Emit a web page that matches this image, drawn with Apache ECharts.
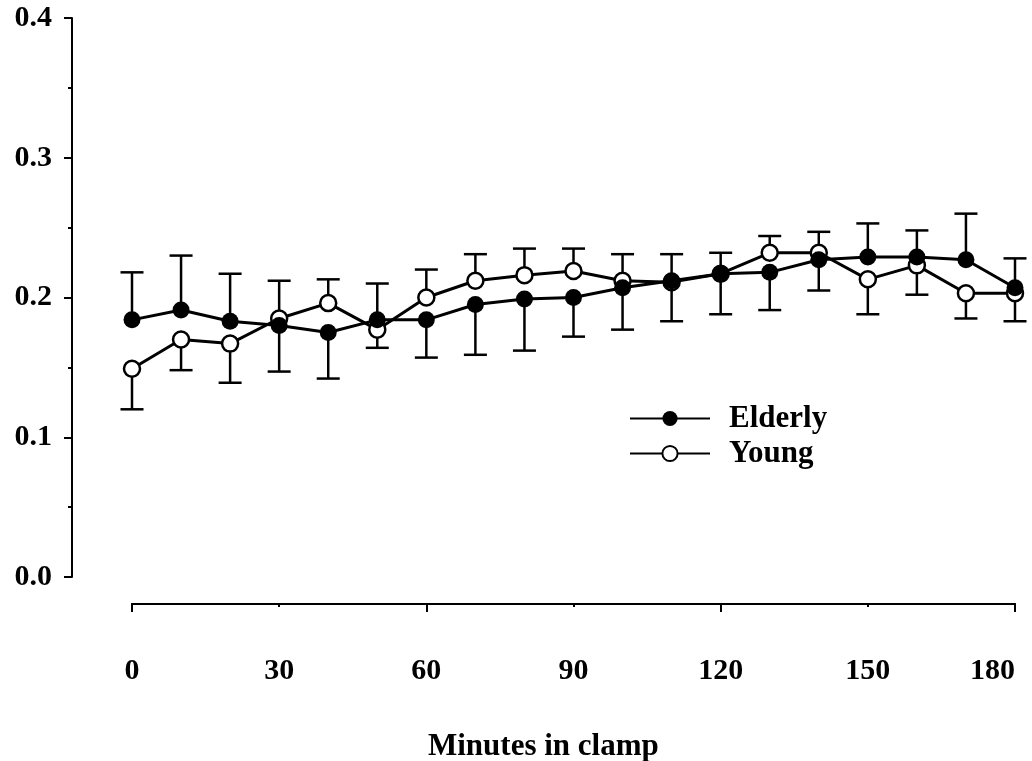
<!DOCTYPE html>
<html>
<head>
<meta charset="utf-8">
<script src="https://cdn.jsdelivr.net/npm/echarts@6/dist/echarts.min.js"></script>
<style>
html,body{margin:0;padding:0;background:#fff;}
#chart{width:1032px;height:761px;}
</style>
</head>
<body>
<div id="chart"></div>
<script>
const minutes = [0,10,20,30,40,50,60,70,80,90,100,110,120,130,140,150,160,170,180];
const elderly = [0.184,0.191,0.183,0.180,0.175,0.184,0.184,0.195,0.199,0.200,0.207,0.212,0.217,0.218,0.227,0.229,0.229,0.227,0.207];
const elderlyBarEnd = [0.218,0.230,0.217,0.147,0.142,0.210,0.157,0.159,0.162,0.172,0.177,0.183,0.188,0.191,0.205,0.253,0.248,0.260,0.228];
const young = [0.149,0.170,0.167,0.185,0.196,0.177,0.200,0.212,0.216,0.219,0.212,0.211,0.217,0.232,0.232,0.213,0.223,0.203,0.203];
const youngBarEnd = [0.120,0.148,0.139,0.212,0.213,0.164,0.220,0.231,0.235,0.235,0.231,0.231,0.232,0.244,0.247,0.188,0.202,0.185,0.183];
const yTicks = ['0.0','0.1','0.2','0.3','0.4'];
const xTitle = 'Minutes in clamp';

const FONT = '"Liberation Serif","Times New Roman",serif';
const chart = echarts.init(document.getElementById('chart'), null, {renderer:'canvas'});

function errRender(params, api){
  const x = api.value(0), v = api.value(1), e = api.value(2);
  const p0 = api.coord([x, v]);
  const p1 = api.coord([x, e]);
  const hw = 11.5;
  return {
    type:'group',
    children:[
      {type:'line', shape:{x1:p0[0],y1:p0[1],x2:p1[0],y2:p1[1]}, style:{stroke:'#000',lineWidth:2.5}},
      {type:'line', shape:{x1:p1[0]-hw,y1:p1[1],x2:p1[0]+hw,y2:p1[1]}, style:{stroke:'#000',lineWidth:2.5}}
    ]
  };
}

const labelStyle = {fontFamily:FONT, fontWeight:'bold', fontSize:30, color:'#000'};

chart.setOption({
  animation:false,
  backgroundColor:'#fff',
  grid:{left:132, right:17, top:18, bottom:184, outerBoundsMode:'none', containLabel:false},
  legend:{
    data:['Elderly','Young'],
    orient:'vertical',
    left:624, top:398,
    itemWidth:80, itemHeight:19, itemGap:4,
    selectedMode:false,
    textStyle:{fontFamily:FONT, fontWeight:'bold', fontSize:31, color:'#000', padding:[0,0,0,14]}
  },
  xAxis:[
    {type:'value', min:0, max:180, interval:30, position:'bottom', offset:27,
     axisLine:{show:true, onZero:false, lineStyle:{color:'#000', width:2}},
     axisTick:{show:false}, splitLine:{show:false},
     axisLabel:Object.assign({margin:52, alignMaxLabel:'right'}, labelStyle)},
    {type:'value', min:0, max:180, interval:60, position:'bottom', offset:27,
     axisLine:{show:true, onZero:false, lineStyle:{color:'#000', width:2}},
     axisTick:{show:true, length:8, lineStyle:{color:'#000', width:2}},
     minorTick:{show:true, splitNumber:2, length:3, lineStyle:{color:'#000', width:2}},
     splitLine:{show:false}, axisLabel:{show:false}}
  ],
  yAxis:{type:'value', min:0, max:0.4, interval:0.1, offset:60, position:'left',
    axisLine:{show:true, onZero:false, lineStyle:{color:'#000', width:2}},
    axisTick:{show:true, length:8, lineStyle:{color:'#000', width:2}},
    minorTick:{show:true, splitNumber:2, length:4, lineStyle:{color:'#000', width:2}},
    splitLine:{show:false},
    axisLabel:Object.assign({margin:20, formatter:function(v){return yTicks[Math.round(v*10)];}}, labelStyle)
  },
  graphic:[{type:'text', left:428, top:731, style:{text:xTitle, font:'bold 31px '+FONT, fill:'#000'}}],
  series:[
    {type:'custom', name:'ErrY', renderItem:errRender, xAxisIndex:0, z:1, silent:true,
     encode:{x:0, y:[1,2]}, data:minutes.map((m,i)=>[m, young[i], youngBarEnd[i]])},
    {type:'custom', name:'ErrE', renderItem:errRender, xAxisIndex:0, z:1, silent:true,
     encode:{x:0, y:[1,2]}, data:minutes.map((m,i)=>[m, elderly[i], elderlyBarEnd[i]])},
    {type:'line', name:'Young', xAxisIndex:0, z:3, symbol:'circle', symbolSize:16,
     lineStyle:{color:'#000', width:3},
     itemStyle:{color:'#fff', borderColor:'#000', borderWidth:2.5, opacity:1},
     data:minutes.map((m,i)=>[m, young[i]])},
    {type:'line', name:'Elderly', xAxisIndex:0, z:4, symbol:'circle', symbolSize:17,
     lineStyle:{color:'#000', width:3},
     itemStyle:{color:'#000', borderColor:'#000', borderWidth:0},
     data:minutes.map((m,i)=>[m, elderly[i]])}
  ]
});
</script>
</body>
</html>
